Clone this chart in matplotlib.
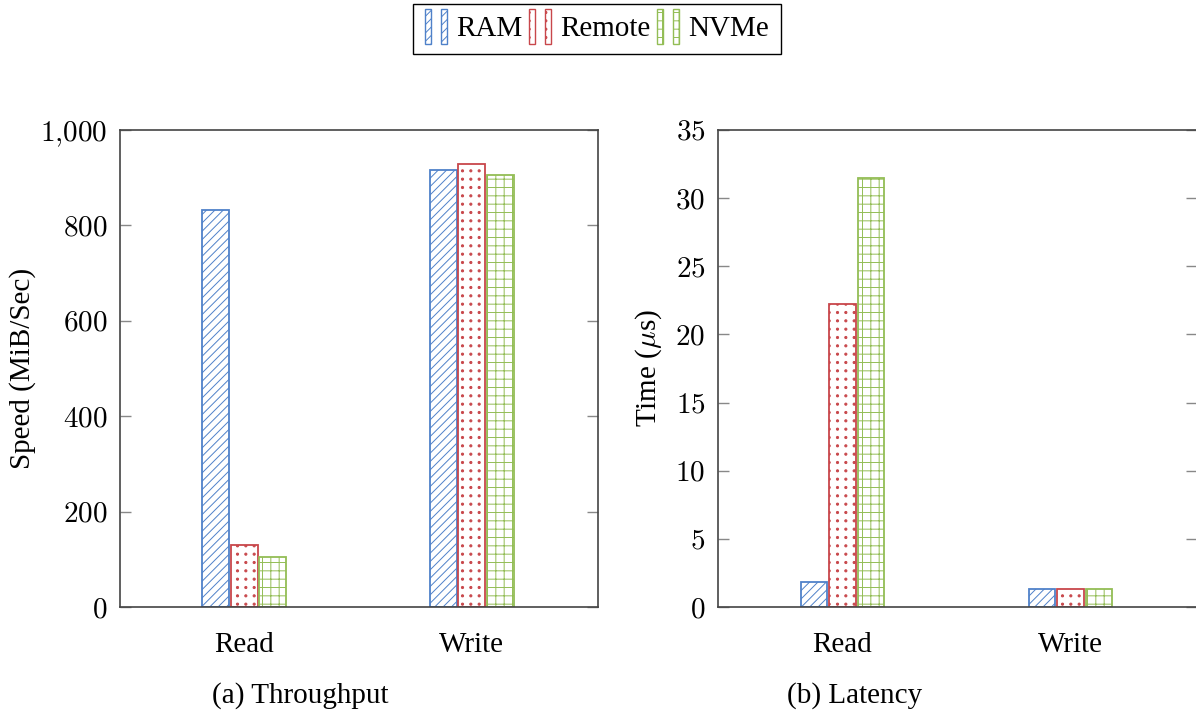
import numpy as np
import matplotlib
matplotlib.use("Agg")
import matplotlib.pyplot as plt
import matplotlib.hatch as mhatch
from matplotlib.path import Path
from matplotlib.patches import Rectangle
from matplotlib.legend_handler import HandlerBase

# ---------------- data ----------------
categories = ["Read", "Write"]
series = ["RAM", "Remote", "NVMe"]
throughput_ram = [833, 917]
throughput_remote = [131, 929]
throughput_nvme = [104, 906]
latency_ram = [1.86, 1.3]
latency_remote = [22.2, 1.3]
latency_nvme = [31.5, 1.3]
throughput_ticks = [0, 200, 400, 600, 800, 1000]
throughput_ticklabels = ["$0$", "$200$", "$400$", "$600$", "$800$", "$1{,}000$"]
latency_ticks = [0, 5, 10, 15, 20, 25, 30, 35]
latency_ticklabels = ["$%d$" % v for v in latency_ticks]

# ---------------- square-grid dot hatch ----------------
class GridDots(mhatch.HatchPatternBase):
    def __init__(self, hatch, density):
        self.num_rows = hatch.count('.') * density
        circ = Path.unit_circle()
        self.shape_vertices = circ.vertices
        self.shape_codes = circ.codes
        self.num_vertices = (self.num_rows ** 2) * len(circ.vertices) if self.num_rows else 0

    def set_vertices_and_codes(self, vertices, codes):
        offset = 1.0 / self.num_rows
        sv = self.shape_vertices * offset * 0.13
        parts = []
        for r in range(self.num_rows):
            for c in range(self.num_rows):
                parts.append(sv + [(c + 0.5) * offset, (r + 0.5) * offset])
        vertices[:] = np.concatenate(parts)
        codes[:] = np.tile(self.shape_codes, self.num_rows ** 2)

mhatch._hatch_types[:] = [h for h in mhatch._hatch_types
                          if h is not mhatch.SmallFilledCircles] + [GridDots]

plt.rcParams['font.family'] = ['Liberation Serif', 'DejaVu Serif']
plt.rcParams['mathtext.fontset'] = 'cm'
plt.rcParams['hatch.linewidth'] = 0.7
FS = 21

colors = ['#4f81c9', '#c8474b', '#93bd55']
hatches = ['////', '..', '++']

fig = plt.figure(figsize=(11.96, 7.11), dpi=100)
W, H = 1196.0, 711.0
ax1 = fig.add_axes([120 / W, (H - 607) / H, 478 / W, 477 / H])
ax2 = fig.add_axes([718 / W, (H - 607) / H, 479 / W, 477 / H])

x = np.arange(len(categories))
bw = 0.118
step = 0.125

def draw(ax, data, ticks, ticklabels, ylim):
    bars = []
    for i, (vals, c, h) in enumerate(zip(data, colors, hatches)):
        b = ax.bar(x + (i - 1) * step, vals, bw, facecolor='white',
                   edgecolor=c, hatch=h, linewidth=1.3, zorder=2)
        bars.append(b)
    ax.set_xlim(-0.546, 1.555)
    ax.set_ylim(*ylim)
    ax.set_xticks(x)
    ax.set_xticklabels(categories, fontsize=FS)
    ax.set_yticks(ticks)
    ax.set_yticklabels(ticklabels, fontsize=FS)
    ax.tick_params(axis='x', length=0, pad=18)
    ax.tick_params(axis='y', direction='in', left=True, right=True,
                   length=8, width=1, color='#888888', pad=9)
    for s in ax.spines.values():
        s.set_color('#444444')
        s.set_linewidth(1.2)
    return bars

bars = draw(ax1, [throughput_ram, throughput_remote, throughput_nvme],
            throughput_ticks, throughput_ticklabels, (0, 1000))
draw(ax2, [latency_ram, latency_remote, latency_nvme],
     latency_ticks, latency_ticklabels, (0, 35))

ax1.set_ylabel("Speed (MiB/Sec)", fontsize=FS, labelpad=3)
ax2.set_ylabel(r"Time ($\mu$s)", fontsize=FS, labelpad=8)

fig.text(300 / W, 1 - 703 / H, "(a) Throughput", fontsize=FS, ha='center', va='baseline')
fig.text(855 / W, 1 - 703 / H, "(b) Latency", fontsize=FS, ha='center', va='baseline')

class TwoBars(HandlerBase):
    def create_artists(self, legend, orig_handle, xdescent, ydescent,
                       width, height, fontsize, trans):
        rw = width * 0.25
        arts = []
        for x0 in (0.0, width * 0.73):
            r = Rectangle((x0 - xdescent, -ydescent - height * 0.4), rw, height * 1.75,
                          facecolor='white', edgecolor=orig_handle.get_edgecolor(),
                          hatch=orig_handle.get_hatch(), linewidth=1.0, transform=trans)
            arts.append(r)
        return arts

handles = [b.patches[0] for b in bars]
leg = fig.legend(handles, series, loc='center',
                 bbox_to_anchor=(597 / W, 1 - 29 / H), ncol=3, fontsize=FS,
                 handler_map={Rectangle: TwoBars()}, handlelength=0.75,
                 handletextpad=0.3, columnspacing=0.25, borderpad=0.42,
                 borderaxespad=0, fancybox=False, framealpha=1, edgecolor='black')
leg.get_frame().set_linewidth(1.0)

fig.savefig("out.png", dpi=100)
